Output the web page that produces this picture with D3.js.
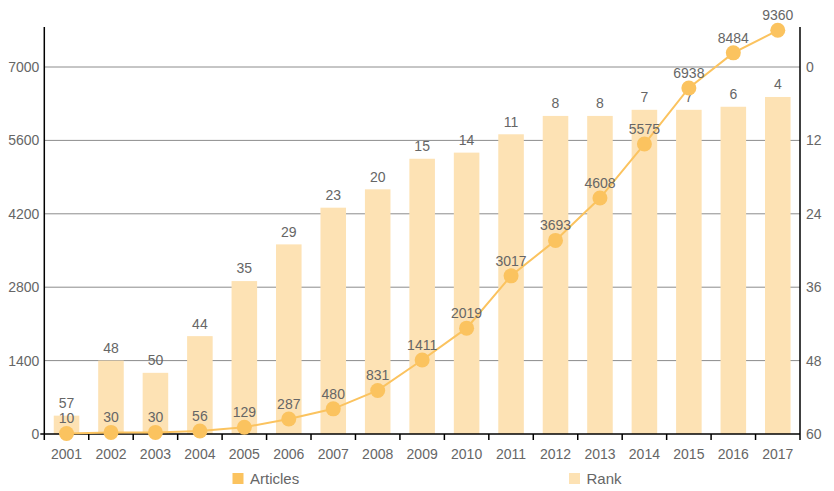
<!DOCTYPE html>
<html>
<head>
<meta charset="utf-8">
<script src="https://cdn.jsdelivr.net/npm/d3@7"></script>
<style>
  body { margin: 0; background: #fff; }
  text { font-family: "Liberation Sans", Arial, sans-serif; }
</style>
</head>
<body>
<div id="chart"></div>
<script>
// data
var years = ["2001","2002","2003","2004","2005","2006","2007","2008","2009",
             "2010","2011","2012","2013","2014","2015","2016","2017"];
// labels printed above the dots
var articles = [10,30,30,56,129,287,480,831,1411,2019,3017,3693,4608,5575,6938,8484,9360];
// where the dots actually sit on the left axis
var articlesPlotted = [10,30,30,56,129,287,480,831,1411,2019,3017,3693,4500,5530,6600,7270,7700];
// labels printed above the bars
var rank = [57,48,50,44,35,29,23,20,15,14,11,8,8,7,7,6,4];
// bar heights on the (reversed) right axis
var rankPlotted = [57,48,50,44,35,29,23,20,15,14,11,8,8,7,7,6.5,4.9];
var leftTicks = [0,1400,2800,4200,5600,7000];
var rightTicks = [0,12,24,36,48,60];

var W = 834, H = 491;
var x0 = 44.3, x1 = 800, yTop = 27, yBase = 434, yMax = 67;
var lineColor = "#fbc35f", barColor = "#fde2b4", textColor = "#666";

var svg = d3.select("#chart").append("svg")
	.attr("width", W).attr("height", H);

var x = d3.scaleBand().domain(years).range([x0, x1]).padding(0);
var yL = d3.scaleLinear().domain([0, 7000]).range([yBase, yMax]);
var yR = d3.scaleLinear().domain([0, 60]).range([yMax, yBase]);
var barW = x.bandwidth() * 0.575;

// grid lines
svg.append("g").selectAll("line").data(leftTicks.filter(function(d){ return d > 0; }))
	.enter().append("line")
	.attr("x1", x0).attr("x2", x1)
	.attr("y1", function(d){ return yL(d); })
	.attr("y2", function(d){ return yL(d); })
	.attr("stroke", "#8c8c8c").attr("stroke-width", 1);

// bars (rank)
var bars = svg.append("g");
bars.selectAll("rect").data(years).enter().append("rect")
	.attr("x", function(d){ return x(d) + (x.bandwidth() - barW) / 2; })
	.attr("y", function(d, i){ return yR(rankPlotted[i]); })
	.attr("width", barW)
	.attr("height", function(d, i){ return yBase - yR(rankPlotted[i]); })
	.attr("fill", barColor);

bars.selectAll("text").data(years).enter().append("text")
	.attr("x", function(d){ return x(d) + x.bandwidth() / 2; })
	.attr("y", function(d, i){ return yR(rankPlotted[i]) - 12.5; })
	.attr("dy", "0.35em")
	.attr("text-anchor", "middle")
	.attr("font-size", 14)
	.attr("fill", textColor)
	.text(function(d, i){ return rank[i]; });

// axes
var axisL = d3.axisLeft(yL).tickValues(leftTicks).tickFormat(d3.format("d")).tickSize(0).tickPadding(5);
var gL = svg.append("g").attr("transform", "translate(" + x0 + ",0)").call(axisL);
var axisR = d3.axisRight(yR).tickValues(rightTicks).tickFormat(d3.format("d")).tickSize(0).tickPadding(6);
var gR = svg.append("g").attr("transform", "translate(" + x1 + ",0)").call(axisR);
var axisB = d3.axisBottom(x).tickSize(0).tickPadding(15);
var gB = svg.append("g").attr("transform", "translate(0," + yBase + ")").call(axisB);
[gL, gR, gB].forEach(function(g){
	g.select(".domain").remove();
	g.selectAll("text").attr("font-size", 14).attr("fill", textColor)
		.attr("font-family", "Liberation Sans, Arial, sans-serif");
});

svg.append("line").attr("x1", x0).attr("x2", x0).attr("y1", yTop).attr("y2", yBase + 6)
	.attr("stroke", "#000").attr("stroke-width", 1.5);
svg.append("line").attr("x1", x1).attr("x2", x1).attr("y1", yTop).attr("y2", yBase + 6)
	.attr("stroke", "#000").attr("stroke-width", 1.5);
svg.append("line").attr("x1", x0 - 4).attr("x2", x1).attr("y1", yBase).attr("y2", yBase)
	.attr("stroke", "#000").attr("stroke-width", 1.5);
svg.append("g").selectAll("line").data(years.slice(1)).enter().append("line")
	.attr("x1", function(d){ return x(d); }).attr("x2", function(d){ return x(d); })
	.attr("y1", yBase).attr("y2", yBase + 6)
	.attr("stroke", "#000").attr("stroke-width", 1.5);

// line (articles)
var line = d3.line()
	.x(function(d){ return x(d) + x.bandwidth() / 2; })
	.y(function(d, i){ return yL(articlesPlotted[i]); });
svg.append("path").datum(years).attr("d", line)
	.attr("fill", "none").attr("stroke", lineColor).attr("stroke-width", 2);

var dots = svg.append("g");
dots.selectAll("circle").data(years).enter().append("circle")
	.attr("cx", function(d){ return x(d) + x.bandwidth() / 2; })
	.attr("cy", function(d, i){ return yL(articlesPlotted[i]); })
	.attr("r", 7.5)
	.attr("fill", lineColor);
dots.selectAll("text").data(years).enter().append("text")
	.attr("x", function(d){ return x(d) + x.bandwidth() / 2; })
	.attr("y", function(d, i){ return yL(articlesPlotted[i]) - 15; })
	.attr("dy", "0.35em")
	.attr("text-anchor", "middle")
	.attr("font-size", 14)
	.attr("fill", textColor)
	.text(function(d, i){ return articles[i]; });

// legend
var legend = [["Articles", lineColor, 232.5], ["Rank", barColor, 569]];
var lg = svg.append("g").selectAll("g").data(legend).enter().append("g")
	.attr("transform", function(d){ return "translate(" + d[2] + ",473)"; });
lg.append("rect").attr("width", 11).attr("height", 11).attr("fill", function(d){ return d[1]; });
lg.append("text").attr("x", 17.5).attr("y", 5.5).attr("dy", "0.35em")
	.attr("font-size", 15).attr("fill", textColor)
	.text(function(d){ return d[0]; });
</script>
</body>
</html>
